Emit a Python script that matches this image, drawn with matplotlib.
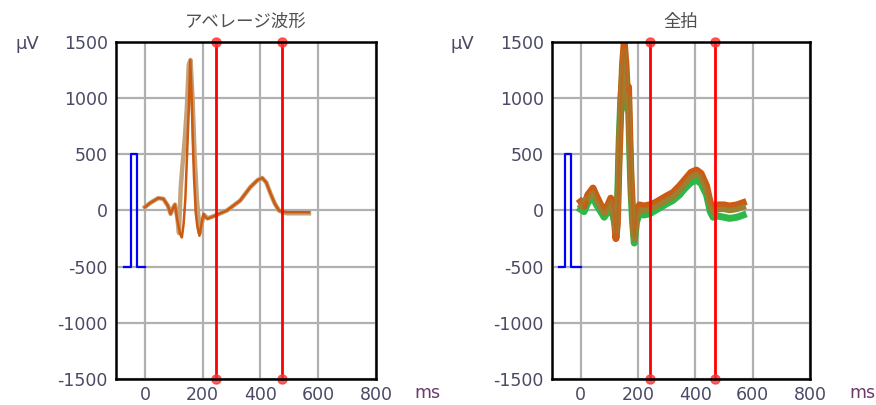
import matplotlib
matplotlib.use("Agg")
import matplotlib.pyplot as plt

# ---------------- data ----------------
titles = ["アベレージ波形", "全拍"]
x_ticks = [0, 200, 400, 600, 800]
y_ticks = [-1500, -1000, -500, 0, 500, 1000, 1500]

# average waveform (left) - main orange trace
avg_t = [0, 20, 46, 64, 80, 89, 97, 104, 112, 122, 128, 134, 140, 146, 152, 157,
         162, 166, 170, 176, 182, 189, 196, 203, 210, 217, 243, 284, 330, 365,
         390, 406, 420, 435, 450, 464, 480, 493, 568]
avg_v = [30, 70, 110, 104, 40, -30, 20, 53, -80, -210, -240, -120, 100, 500, 900, 1340,
         1000, 600, 300, -20, -150, -225, -120, -30, -60, -74, -45, 0, 89, 208,
         270, 290, 250, 150, 60, 0, -10, -15, -15]

# average waveform (left) - tan spread trace
tan_t = [0, 20, 46, 64, 80, 89, 97, 104, 112, 118, 124, 130, 137, 145, 152, 158,
         165, 172, 180, 190, 198, 205, 217, 243, 284, 330, 365, 390, 406, 420,
         435, 450, 464, 480, 493, 568]
tan_v = [30, 70, 110, 104, 40, -30, 20, 53, -60, -200, 200, 400, 600, 900, 1300, 1340,
         1000, 500, 100, -200, -100, -40, -70, -45, 0, 89, 208, 270, 290, 250,
         150, 60, 0, -20, -25, -25]

# all beats (right)
rt = [0, 12, 25, 43, 55, 70, 82, 95, 105, 115, 123, 128, 134, 140, 146, 152, 158,
      163, 167, 171, 175, 181, 187, 195, 205, 220, 240, 260, 280, 300, 322, 345,
      365, 385, 404, 420, 439, 452, 462, 480, 500, 520, 545, 567]
beat_orange = [80, 40, 140, 200, 130, 50, 0, 50, 110, 10, -250, -120, 450, 900, 1300, 1500, 1300,
               1050, 1100, 700, 350, 0, -230, -40, 50, 40, 50, 70, 100, 130, 160, 220,
               280, 340, 360, 330, 220, 70, 30, 50, 50, 40, 50, 70]
beat_olive = [40, 90, 110, 160, 90, 20, -30, 20, 80, -30, -200, -60, 550, 950, 1250, 1420, 1200,
              950, 1000, 600, 250, -60, -260, -80, 10, 0, 10, 30, 60, 90, 120, 180,
              240, 300, 320, 290, 180, 30, -20, 10, 10, 0, 10, 30]
beat_green = [10, -10, 70, 120, 50, -10, -60, -10, 50, -70, -160, 0, 600, 1000, 1200, 1350, 1150,
              900, 950, 550, 200, -100, -290, -100, -30, -40, -30, 0, 30, 60, 90, 140,
              200, 250, 270, 240, 140, -10, -60, -50, -60, -70, -60, -40]

# calibration pulses and cursors
pulse_t_left = [-73, -49, -49, -28, -28, 0]
pulse_t_right = [-75, -56, -56, -33, -33, 0]
pulse_v = [-500, -500, 500, 500, -500, -500]
cursors_left = [247, 475]
cursors_right = [243, 470]

# ---------------- figure ----------------
W, H = 876, 405
fig = plt.figure(figsize=(W / 100, H / 100), dpi=100)
txt_color = "#4a4a66"

def px_rect(x0, y0, x1, y1):
    return [x0 / W, 1 - y1 / H, (x1 - x0) / W, (y1 - y0) / H]

ax_l = fig.add_axes(px_rect(116, 42, 376, 379))
ax_r = fig.add_axes(px_rect(552, 42, 810, 379))

for ax, title, cursors, pulse_t in [(ax_l, titles[0], cursors_left, pulse_t_left),
                                     (ax_r, titles[1], cursors_right, pulse_t_right)]:
    ax.set_xlim(-100, 800)
    ax.set_ylim(-1500, 1500)
    ax.set_xticks(x_ticks)
    ax.set_yticks(y_ticks)
    ax.set_xticklabels([str(v) for v in x_ticks])
    ax.set_yticklabels([str(v) for v in y_ticks])
    ax.tick_params(length=0, labelsize=12.5, colors=txt_color, pad=5)
    ax.tick_params(axis="y", pad=6)
    ax.grid(True, color="#b0b0b0", lw=1.6)
    ax.set_axisbelow(True)
    for s in ax.spines.values():
        s.set_linewidth(1.8)
        s.set_color("black")
        s.set_zorder(10)
    ax.plot(pulse_t, pulse_v, color="#0000ff", lw=1.6, zorder=4, clip_on=False)
    for c in cursors:
        ax.plot([c, c], [-1500, 1500], color="#ff0000", lw=2.0, zorder=6, clip_on=False)
        ax.plot([c, c], [-1500, 1500], ls="none", marker="o", ms=6.5,
                color="#ff3333", alpha=0.8, zorder=7, clip_on=False)
    ax.set_title(title, fontsize=12.5, color="#505050", pad=11,
                 family=["Noto Sans CJK JP", "DejaVu Sans"])

ax_l.plot(tan_t, tan_v, color="#c4a27a", lw=3.2, zorder=3, solid_joinstyle="round")
ax_l.plot(avg_t, avg_v, color="#cc5a10", lw=1.8, zorder=3.5, solid_joinstyle="round")

ax_r.plot(rt, beat_green, color="#2db84a", lw=5.0, zorder=3)
ax_r.plot(rt, beat_orange, color="#cc5a10", lw=5.0, zorder=3.2)
ax_r.plot(rt, beat_olive, color="#9a8030", lw=4.0, zorder=3.4)
ax_r.plot(rt, beat_orange, color="#c8601a", lw=1.5, alpha=0.8, zorder=3.5)

# unit labels
for x in (27, 462):
    fig.text(x / W, 1 - 44 / H, "μV", fontsize=13, color=txt_color, ha="center", va="center")
for x in (427, 862):
    fig.text(x / W, 1 - 393 / H, "ms", fontsize=12.5, color="#6a3a6a", ha="center", va="center")

fig.savefig("out.png", dpi=100)
